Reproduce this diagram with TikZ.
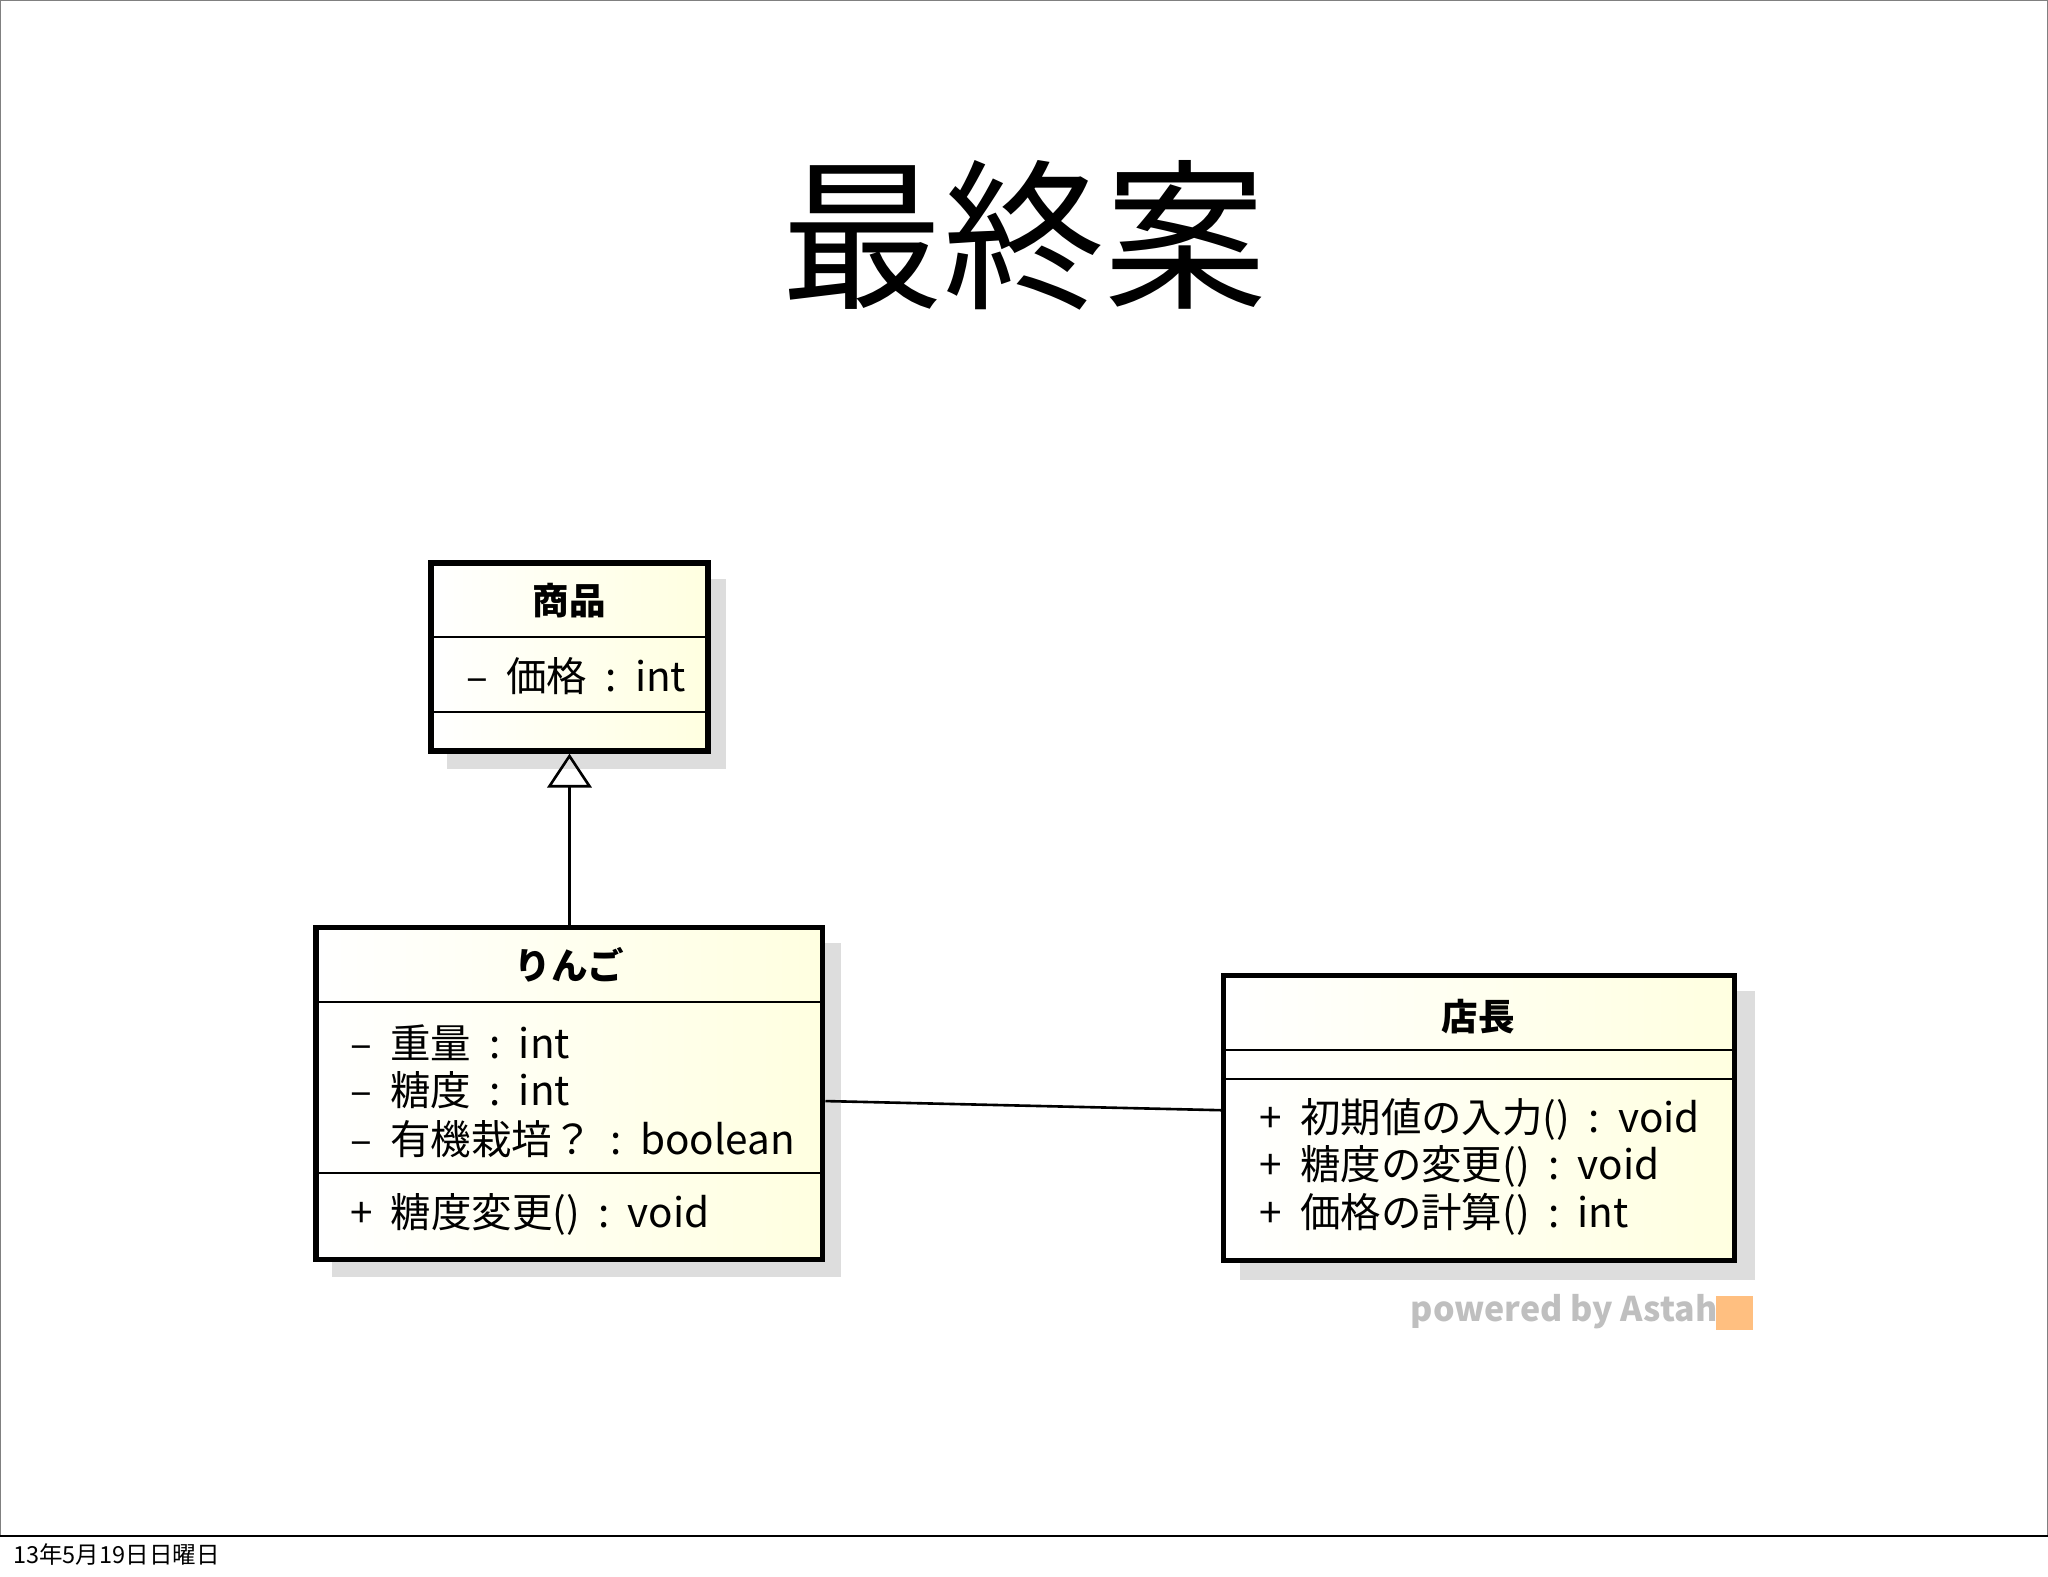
\documentclass[tikz,border=0pt]{standalone}
\usepackage{fontspec}
\setmainfont{Noto Sans CJK JP}
\usetikzlibrary{arrows.meta}
\definecolor{cfill}{HTML}{FFFFE0}
\definecolor{shad}{HTML}{DDDDDD}
\newcommand{\gp}{\hspace{0.45em}}
\tikzset{
 cls/.style={draw=black,line width=4pt,left color=white,right color=cfill},
 shd/.style={fill=shad,draw=none},
 dv/.style={line width=1.5pt},
 attr/.style={anchor=west,font=\fontsize{31}{36}\selectfont,inner sep=0pt},
 cname/.style={font=\bfseries\fontsize{28}{34}\selectfont,inner sep=0pt},
}
\begin{document}
\begin{tikzpicture}[x=1pt,y=-1pt]
\useasboundingbox (0,0) rectangle (1568,1207);
\fill[white] (0,0) rectangle (1568,1207);
\draw[line width=1pt,gray] (0.5,1176) -- (0.5,0.5) -- (1567.5,0.5) -- (1567.5,1176);
\draw[line width=1pt] (0,1176) -- (1568,1176);
\node[anchor=west,font=\fontsize{18}{20}\selectfont,inner sep=0pt] (foot) at (10,1190) {13年5月19日日曜日};
\node[font=\fontsize{124}{130}\selectfont,inner sep=0pt] (title) at (784,180) {最終案};
% shadows
\fill[shd] (342,443) rectangle (556,589);
\fill[shd] (254,722) rectangle (644,978);
\fill[shd] (949,759) rectangle (1344,980);
% 商品
\path[cls] (330,431) rectangle (542,575);
\node[cname] (shohin) at (436,460) {商品};
\draw[dv] (330,488) -- (542,488);
\draw[dv] (330,545) -- (542,545);
\node[attr] (a1) at (357,518) {–\gp 価格\gp:\gp int};
\coordinate (sb) at (436,577);
% りんご
\path[cls] (242,710) rectangle (630,964);
\node[cname] (ringo) at (436,739) {りんご};
\draw[dv] (242,767) -- (630,767);
\draw[dv] (242,898) -- (630,898);
\node[attr] at (268,798) {–\gp 重量\gp:\gp int};
\node[attr] at (268,835) {–\gp 糖度\gp:\gp int};
\node[attr] at (268,872) {–\gp 有機栽培？\gp:\gp boolean};
\node[attr] at (268,930) {+\gp 糖度変更()\gp:\gp void};
\coordinate (rt) at (436,708);
\coordinate (rr) at (632,843);
% 店長
\path[cls] (937,747) rectangle (1328,965);
\node[cname] (tencho) at (1132,778) {店長};
\draw[dv] (937,804) -- (1328,804);
\draw[dv] (937,826) -- (1328,826);
\node[attr] at (964,857) {+\gp 初期値の入力()\gp:\gp void};
\node[attr] at (964,893) {+\gp 糖度の変更()\gp:\gp void};
\node[attr] at (964,930) {+\gp 価格の計算()\gp:\gp int};
\coordinate (tl) at (935,850);
% connectors
\draw[line width=2pt,-{Triangle[open,length=26pt,width=34pt,line width=2pt]}] (rt) -- (sb);
\draw[line width=2pt] (rr) -- (tl);
\node[anchor=west,font=\bfseries\fontsize{26}{30}\selectfont,text=black!25,inner sep=0pt] (pw) at (1080,1004) {powered by Astah};
\fill[orange!50] (1314,992) rectangle (1342,1018);
\end{tikzpicture}
\end{document}
